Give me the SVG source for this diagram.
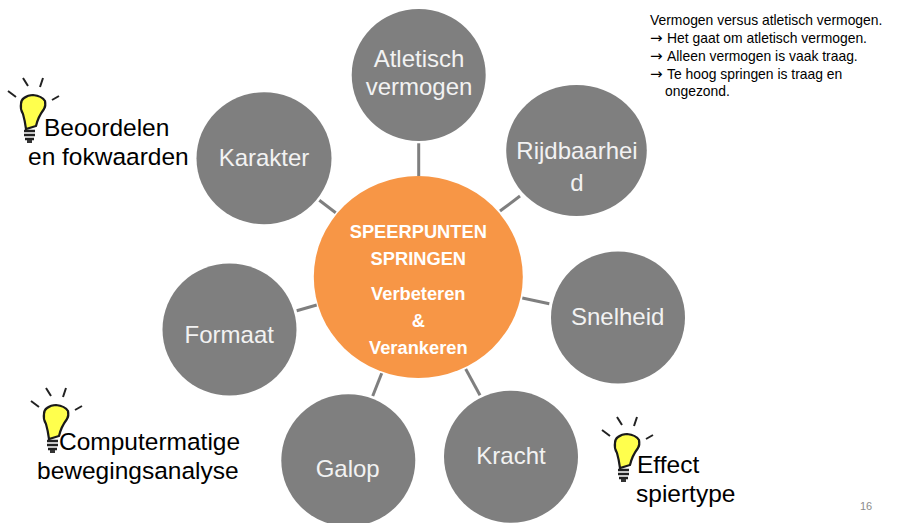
<svg xmlns="http://www.w3.org/2000/svg" width="900" height="523" viewBox="0 0 900 523">
<style>
text{font-family:"Liberation Sans",Arial,sans-serif}
.n{fill:#7f7f7f}
.t{fill:#f2f2f2;font-size:24px;text-anchor:middle}
.b{fill:#000;font-size:24.500px}
.s{fill:#000;font-size:13.900px}
.a{font-family:"DejaVu Sans",sans-serif;font-size:15px}
.c{fill:#fff;font-size:18.300px;font-weight:bold;text-anchor:middle}
.l{stroke:#7f7f7f;stroke-width:3;fill:none}
</style>
<defs>
<g id="bulb">
<path d="M8 31 L16 37 M23 18 L28 26 M43 18 L40 27 M59 36 L52 40" stroke="#222" stroke-width="2" fill="none"/>
<path d="M33 35 Q42 36 45 41 Q46 46 44 49 Q38 57 36 66 L26 69 Q25 61 23 54 Q20 49 21 44 Q21 40 24 38 Q28 35 33 35Z" fill="#ffff4d" stroke="#1a1a1a" stroke-width="2.200"/>
<path d="M24 71 H35 M24 75 H35 M25 79 H34" stroke="#222" stroke-width="2.400"/>
<path d="M27 80 H32 V83 H27Z" fill="#333"/>
</g>
</defs>
<g id="connectors" class="l">
<line x1="418.700" y1="143.300" x2="418.700" y2="176"/>
<line x1="500" y1="211" x2="520" y2="196"/>
<line x1="522.300" y1="298" x2="549.300" y2="303.700"/>
<line x1="465.700" y1="369" x2="480" y2="395.300"/>
<line x1="381.700" y1="373.300" x2="372.700" y2="396"/>
<line x1="316.700" y1="305" x2="296.700" y2="310.700"/>
<line x1="335.700" y1="212.700" x2="319.300" y2="200.300"/>
</g>
<g id="center"><ellipse cx="418.300" cy="277" rx="104.500" ry="101" fill="#f79646"/>
<text class="c" x="418.300" y="238">SPEERPUNTEN</text>
<text class="c" x="418.300" y="265">SPRINGEN</text>
<text class="c" x="418.300" y="300">Verbeteren</text>
<text class="c" x="418.300" y="327">&amp;</text>
<text class="c" x="418.300" y="354">Verankeren</text></g>
<g id="atletisch"><ellipse class="n" cx="418.700" cy="75" rx="67" ry="66"/><text class="t" x="419" y="66.700">Atletisch</text><text class="t" x="419" y="94.700">vermogen</text></g>
<g id="rijdbaarheid"><ellipse class="n" cx="576.500" cy="150.500" rx="70.300" ry="65.500"/><text class="t" x="577" y="159">Rijdbaarhei</text><text class="t" x="577" y="191">d</text></g>
<g id="snelheid"><ellipse class="n" cx="618" cy="317.500" rx="67" ry="66"/><text class="t" x="617.700" y="325">Snelheid</text></g>
<g id="kracht"><ellipse class="n" cx="511" cy="456.700" rx="67" ry="66"/><text class="t" x="511" y="464">Kracht</text></g>
<g id="galop"><ellipse class="n" cx="348.300" cy="460.300" rx="67" ry="66"/><text class="t" x="347.700" y="476.700">Galop</text></g>
<g id="formaat"><ellipse class="n" cx="229.500" cy="329.500" rx="67" ry="66"/><text class="t" x="229.300" y="342.700">Formaat</text></g>
<g id="karakter"><ellipse class="n" cx="264" cy="158.300" rx="67.500" ry="66"/><text class="t" x="264" y="165.700">Karakter</text></g>
<g id="note"><text class="s" x="650" y="25">Vermogen versus atletisch vermogen.</text>
<text class="a" x="650" y="43">→</text><text class="s" x="667" y="43">Het gaat om atletisch vermogen.</text>
<text class="a" x="650" y="61">→</text><text class="s" x="667" y="61">Alleen vermogen is vaak traag.</text>
<text class="a" x="650" y="79">→</text><text class="s" x="667" y="79">Te hoog springen is traag en</text>
<text class="s" x="665" y="96">ongezond.</text></g>
<g id="tip1"><use href="#bulb" x="0" y="60"/><text class="b" x="44" y="136">Beoordelen</text><text class="b" x="28" y="165">en fokwaarden</text></g>
<g id="tip2"><use href="#bulb" x="23" y="370"/><text class="b" x="59" y="450">Computermatige</text><text class="b" x="37" y="479">bewegingsanalyse</text></g>
<g id="tip3"><use href="#bulb" x="594" y="399"/><text class="b" x="637" y="473">Effect</text><text class="b" x="636" y="502">spiertype</text></g>
<g id="page"><text x="860" y="510" font-size="11" fill="#8c8c8c">16</text></g>
</svg>
